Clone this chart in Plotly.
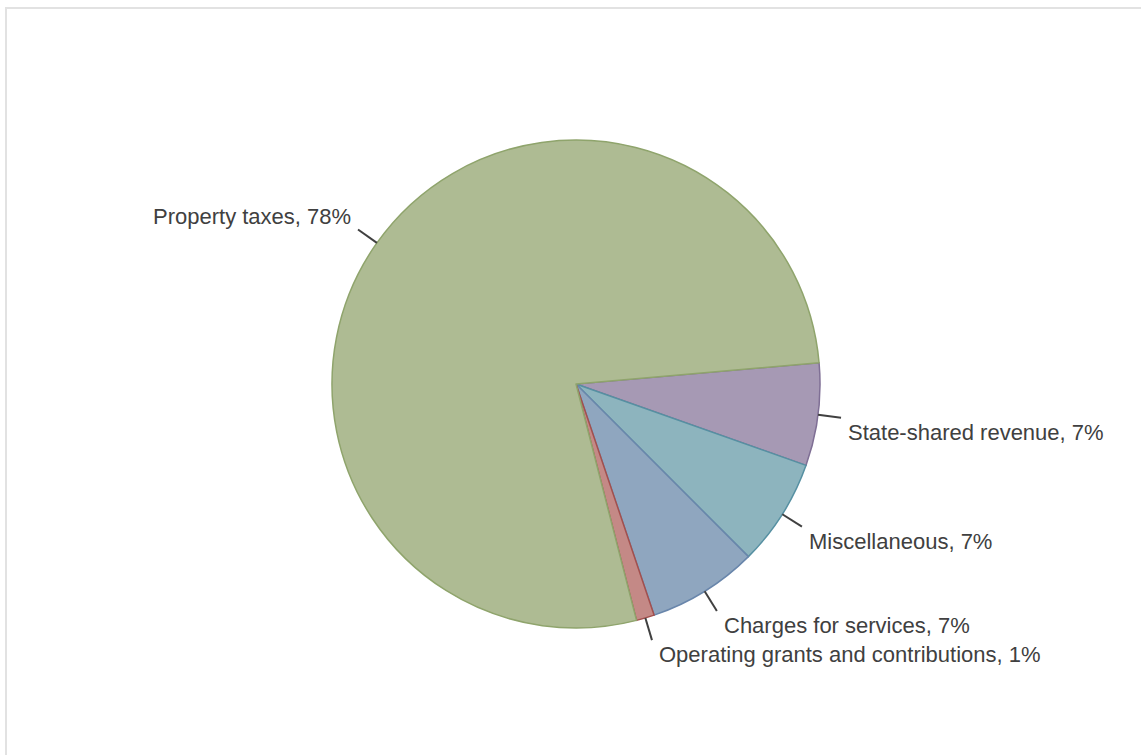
import math
import plotly.graph_objects as go

# ---- data ----
labels = ["State-shared revenue", "Miscellaneous", "Charges for services",
          "Operating grants and contributions", "Property taxes"]
values = [6.8, 7.1, 7.3, 1.2, 77.6]
fill_colors = ["#a699b4", "#8db4be", "#8fa6bf", "#c48986", "#aebb93"]
line_colors = ["#7f6f95", "#5690a2", "#6986ab", "#a3504e", "#8fa46c"]
pct_labels = ["7%", "7%", "7%", "1%", "78%"]

W, H = 1141, 755
CX, CY, R = 576, 384, 244
ROT = 85.0

m_l, m_t = CX - R, CY - R
m_r, m_b = W - (CX + R), H - (CY + R)

fig = go.Figure(go.Pie(
    labels=labels, values=values, sort=False, direction="clockwise",
    rotation=ROT, textinfo="none", hoverinfo="label+percent",
    marker=dict(colors=fill_colors, line=dict(color=line_colors, width=1.5)),
    showlegend=False, domain=dict(x=[0, 1], y=[0, 1]),
))

shapes = []
annotations = []
total = sum(values)
cum = 0.0
k0, k1 = 1.0, 1.095
for lab, v, pct in zip(labels, values, pct_labels):
    a = math.radians(ROT + 360.0 * (cum + v / 2.0) / total)
    cum += v
    s, c = math.sin(a), math.cos(a)
    x0, y0 = 0.5 + 0.5 * k0 * s, 0.5 + 0.5 * k0 * c
    x1, y1 = 0.5 + 0.5 * k1 * s, 0.5 + 0.5 * k1 * c
    shapes.append(dict(type="line", xref="paper", yref="paper",
                       x0=x0, y0=y0, x1=x1, y1=y1,
                       line=dict(color="#404040", width=2)))
    right = s >= 0
    upper = c > 0
    annotations.append(dict(
        xref="paper", yref="paper", x=x1, y=y1, showarrow=False,
        text=f"{lab}, {pct}",
        xanchor="left" if right else "right",
        yanchor="bottom" if upper else "top",
        xshift=5 if right else -5,
        yshift=-1 if upper else 0,
        font=dict(family="Arial, Liberation Sans, sans-serif", size=22, color="#404040"),
    ))

# frame around the chart
def px_x(p):
    return (p - m_l) / (2 * R)

def px_y(p):
    return (H - m_b - p) / (2 * R)

shapes.append(dict(type="rect", xref="paper", yref="paper",
                   x0=px_x(6), x1=px_x(1170), y0=px_y(790), y1=px_y(8),
                   line=dict(color="#e2e2e2", width=2), layer="below"))

fig.update_layout(
    width=W, height=H, margin=dict(l=m_l, r=m_r, t=m_t, b=m_b, autoexpand=False),
    paper_bgcolor="white", plot_bgcolor="white",
    shapes=shapes, annotations=annotations,
)

fig.write_html("out.html")
